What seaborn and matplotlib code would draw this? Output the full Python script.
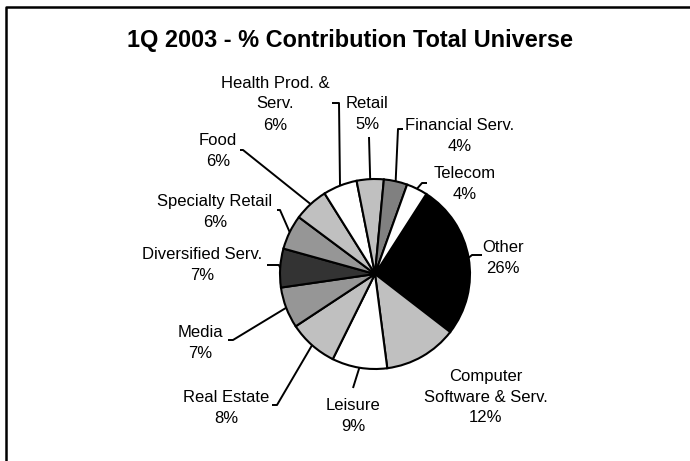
import numpy as np
import matplotlib
matplotlib.use("Agg")
import matplotlib.pyplot as plt
import seaborn as sns

# ---------------- data ----------------
sectors = ["Other", "Computer\nSoftware & Serv.", "Leisure", "Real Estate", "Media",
           "Diversified Serv.", "Specialty Retail", "Food", "Health Prod. &\nServ.",
           "Retail", "Financial Serv.", "Telecom"]
shares = [26.4, 12.49, 9.4, 8.4, 7.0, 6.6, 5.9, 5.9, 5.8, 4.6, 4.0, 3.6]
colors = ["#000000", "#c0c0c0", "#ffffff", "#c0c0c0", "#969696", "#333333",
          "#969696", "#c0c0c0", "#ffffff", "#c0c0c0", "#808080", "#ffffff"]
title = "1Q 2003 - % Contribution Total Universe"

# ---------------- layout (pixel coordinates, y from top) ----------------
W, H = 690, 461
center_px = (375, 274)
radius_px = 95
label_pos = [(503, 258), (486, 397), (353, 416), (226, 408), (200, 343),
             (202, 265), (215, 212), (218, 151), (275, 104), (367, 114),
             (460, 136), (465, 184)]
# elbow point and stub end for each leader (None = no leader)
leaders = [((472, 255), (482, 255)), None, ((353, 388), None),
           ((277, 405), (272, 405)), ((233, 340), (228, 340)),
           ((279, 265), (267, 265)), ((280, 210), (277, 210)),
           ((243, 150), (240, 150)), ((339, 103), (332, 103)),
           ((369, 137), None), ((398, 129), (403, 129)),
           ((422, 183), (427, 183))]

sns.set_theme(style="white")
plt.rcParams['font.family'] = ['Liberation Sans', 'DejaVu Sans']
plt.rcParams['text.color'] = 'black'

fig = plt.figure(figsize=(W / 100, H / 100), dpi=100)
ax = fig.add_axes([0, 0, 1, 1])


def to_data(p):
    return (p[0], H - p[1])


cx, cy = to_data(center_px)
total = sum(shares)
wedges, _ = ax.pie(shares, colors=colors, startangle=57.3, counterclock=False,
                   center=(cx, cy), radius=radius_px,
                   wedgeprops=dict(edgecolor="black", linewidth=1.5),
                   frame=True)

for w, name, val, lp, ld in zip(wedges, sectors, shares, label_pos, leaders):
    pct = int(round(val / total * 100))
    x, y = to_data(lp)
    ax.text(x, y, f"{name}\n{pct}%", ha="center", va="center", fontsize=12,
            linespacing=1.5, color="black")
    if ld is not None:
        mid = np.deg2rad((w.theta1 + w.theta2) / 2)
        ex, ey = cx + radius_px * np.cos(mid), cy + radius_px * np.sin(mid)
        xs, ys = [ex], [ey]
        ex2, ey2 = to_data(ld[0])
        xs.append(ex2); ys.append(ey2)
        if ld[1] is not None:
            sx, sy = to_data(ld[1])
            xs.append(sx); ys.append(sy)
        ax.plot(xs, ys, color="black", linewidth=1.4, solid_capstyle="butt")

tx, ty = to_data((350, 41))
ax.text(tx, ty, title, ha="center", va="center", fontsize=16.9,
        fontweight="bold", color="black")

# partial frame (top and left edges)
ax.plot([6, 6, W], [0, H - 7, H - 7], color="black", linewidth=1.8, clip_on=False)

ax.set_xlim(0, W)
ax.set_ylim(0, H)
ax.set_aspect("equal")
ax.axis("off")

fig.savefig("out.png", dpi=100)
